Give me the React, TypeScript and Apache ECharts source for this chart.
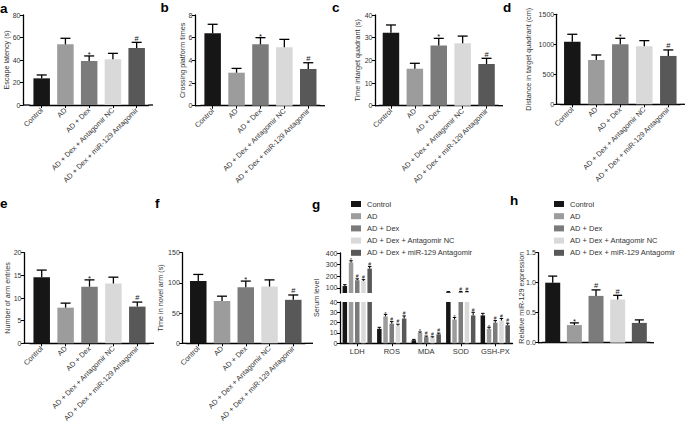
import { useEffect, useRef } from 'react';
import * as echarts from 'echarts';

const FONT = '"Liberation Sans", Arial, Helvetica, sans-serif';

const groups = ['Control', 'AD', 'AD + Dex', 'AD + Dex + Antagomir NC', 'AD + Dex + miR-129 Antagomir'];
const groupColors = ['#161616', '#9c9c9c', '#7b7b7b', '#d9d9d9', '#585858'];

// a
const escapeLatency = [23.7, 53.9, 39.1, 40.6, 50.7];
const escapeLatencyErr = [3.0, 5.4, 4.5, 5.3, 5.0];
// b
const crossingTimes = [6.38, 2.91, 5.41, 5.15, 3.24];
const crossingTimesErr = [0.8, 0.38, 0.59, 0.7, 0.55];
// c
const timeTarget = [32.2, 16.3, 26.5, 27.5, 18.4];
const timeTargetErr = [3.4, 2.4, 3.2, 3.2, 2.5];
// d
const distanceTarget = [1044, 739, 1000, 967, 806];
const distanceTargetErr = [123, 83, 100, 94, 100];
// e
const armEntries = [14.56, 7.87, 12.5, 13.2, 8.1];
const armEntriesErr = [1.6, 1.0, 1.5, 1.4, 1.0];
// f
const novelArmTime = [103, 70, 93, 94, 72];
const novelArmTimeErr = [11, 8, 10, 11, 8];
const behaviourMarks = ['', '', '*', '', '#'];
// g
const serumCategories = ['LDH', 'ROS', 'MDA', 'SOD', 'GSH-PX'];
const serumControl = [115, 14, 3, 62, 27];
const serumAD = [318, 26, 10, 23, 14];
const serumDex = [165, 19, 6, 62, 20];
const serumNC = [160, 17, 5.5, 62, 22];
const serumMiR = [265, 24, 8.7, 27, 17.5];
const serumControlErr = [12, 1.5, 0.8, 5, 2];
const serumADErr = [15, 2, 1, 2, 1.5];
const serumDexErr = [12, 2, 1, 5, 2];
const serumNCErr = [10, 1.5, 0.8, 5, 2];
const serumMiRErr = [18, 2.5, 1.2, 3, 2];
const serumMarks = ['', '*', '#', '#', '#'];
const serumUpperTicks = [100, 200, 300, 400];
const serumLowerTicks = [0, 10, 20, 30, 40];
// h
const mir129 = [1.0, 0.294, 0.78, 0.72, 0.33];
const mir129Err = [0.11, 0.036, 0.1, 0.07, 0.05];
const mir129Marks = ['', '*', '#', '#', ''];

const serumValues = [serumControl, serumAD, serumDex, serumNC, serumMiR];
const serumErrors = [serumControlErr, serumADErr, serumDexErr, serumNCErr, serumMiRErr];

type Panel = {
  letter: string; values: number[]; errors: number[]; marks: string[];
  axisX: number; left: number; width: number; xEnd: number; top: number; bottom: number;
  max: number; interval: number; name: string; nameGap: number; showX: boolean;
  barWidth: number; capW: number; digits: number;
};

const panels: Panel[] = [
  { letter: 'a', values: escapeLatency, errors: escapeLatencyErr, marks: behaviourMarks, axisX: 23, left: 29.8, width: 118.75, xEnd: 153, top: 15, bottom: 105, max: 80, interval: 20, name: 'Escape latency (s)', nameGap: 13, showX: true, barWidth: 16.5, capW: 10, digits: 0 },
  { letter: 'b', values: crossingTimes, errors: crossingTimesErr, marks: behaviourMarks, axisX: 195, left: 200.7, width: 119.5, xEnd: 325, top: 15, bottom: 105.7, max: 8, interval: 2, name: 'Crossing platform times', nameGap: 9, showX: true, barWidth: 16.5, capW: 10, digits: 0 },
  { letter: 'c', values: timeTarget, errors: timeTargetErr, marks: behaviourMarks, axisX: 375, left: 379, width: 119.5, xEnd: 503, top: 15, bottom: 105.7, max: 40, interval: 10, name: 'Time intarget quadrant (s)', nameGap: 14, showX: true, barWidth: 16.5, capW: 10, digits: 0 },
  { letter: 'd', values: distanceTarget, errors: distanceTargetErr, marks: behaviourMarks, axisX: 556.7, left: 560.3, width: 120, xEnd: 685, top: 14.3, bottom: 104.3, max: 1500, interval: 500, name: 'Distance in target quadrant (cm)', nameGap: 25, showX: true, barWidth: 16.5, capW: 10, digits: 0 },
  { letter: 'e', values: armEntries, errors: armEntriesErr, marks: behaviourMarks, axisX: 24, left: 29.75, width: 119.5, xEnd: 154, top: 252.7, bottom: 343.3, max: 20, interval: 5, name: 'Number of arm entries', nameGap: 13, showX: true, barWidth: 16.5, capW: 10, digits: 0 },
  { letter: 'f', values: novelArmTime, errors: novelArmTimeErr, marks: behaviourMarks, axisX: 182.3, left: 186.4, width: 118.75, xEnd: 313, top: 252.7, bottom: 343.3, max: 150, interval: 50, name: 'Time in novel arm (s)', nameGap: 18, showX: true, barWidth: 16.5, capW: 10, digits: 0 },
  { letter: 'h', values: mir129, errors: mir129Err, marks: mir129Marks, axisX: 538.3, left: 541.9, width: 108.25, xEnd: 654, top: 252.7, bottom: 342.7, max: 1.5, interval: 0.5, name: 'Relative miR-129 expression', nameGap: 13, showX: false, barWidth: 15, capW: 9, digits: 1 },
];

const G = { left: 340, width: 172.5, upTop: 253, upBottom: 293, lowTop: 302, lowBottom: 343.3, upMin: 55, upMax: 400, lowMax: 40, step: 6.21 };

const makeRender = (o: { capW: number; lw: number; markSize: number; lo: number; hi: number; offsetOf: (i: number) => number; markOf: (i: number) => string }) =>
  (params: any, api: any) => {
    const i = params.dataIndex;
    const x = api.value(0);
    const v = api.value(1);
    const e = api.value(2);
    const top = v + e;
    const children: any[] = [];
    if (top <= o.lo || v >= o.hi) return { type: 'group', children };
    const base = api.coord([x, Math.max(v, o.lo)]);
    const cx = base[0] + o.offsetOf(i);
    const capVal = Math.min(top, o.hi);
    const capY = api.coord([x, capVal])[1];
    children.push({ type: 'line', shape: { x1: cx, y1: base[1], x2: cx, y2: capY }, style: { stroke: '#000', lineWidth: o.lw } });
    if (top <= o.hi) {
      children.push({ type: 'line', shape: { x1: cx - o.capW / 2, y1: capY, x2: cx + o.capW / 2, y2: capY }, style: { stroke: '#000', lineWidth: o.lw } });
      const m = o.markOf(i);
      if (m) {
        children.push({
          type: 'text', x: cx, y: capY + (m === '*' ? o.markSize * 0.35 : -0.3),
          style: { text: m, fontSize: o.markSize, fontFamily: FONT, fill: '#111', align: 'center', verticalAlign: 'bottom' },
        });
      }
    }
    return { type: 'group', children };
  };

const axisColor = '#000';
const labelColor = '#333';

function buildOption() {
  const grid: any[] = [];
  const xAxis: any[] = [];
  const yAxis: any[] = [];
  const series: any[] = [];
  const graphic: any[] = [];

  panels.forEach((p, k) => {
    grid.push({ left: p.left, top: p.top, width: p.width, height: p.bottom - p.top, containLabel: false, outerBoundsMode: 'none' });
    xAxis.push({
      type: 'category', gridIndex: k, data: groups,
      axisLine: { show: true, lineStyle: { color: axisColor, width: 1.3 } },
      axisTick: { show: p.showX, alignWithLabel: true, length: 3, lineStyle: { color: axisColor, width: 1 } },
      axisLabel: { show: p.showX, rotate: 45, fontSize: 7.3, margin: 4, interval: 0, color: labelColor, fontFamily: FONT },
    });
    yAxis.push({
      type: 'value', gridIndex: k, min: 0, max: p.max, interval: p.interval, offset: p.left - p.axisX,
      name: p.name, nameLocation: 'middle', nameGap: p.nameGap, nameMoveOverlap: false,
      nameTextStyle: { fontSize: 7.2, color: labelColor, fontFamily: FONT },
      axisLine: { show: true, lineStyle: { color: axisColor, width: 1.3 } },
      axisTick: { show: true, length: 3, lineStyle: { color: axisColor, width: 1 } },
      axisLabel: { fontSize: 7, margin: 2.5, color: labelColor, fontFamily: FONT, formatter: (v: number) => v.toFixed(p.digits) },
      splitLine: { show: false },
    });
    series.push({
      type: 'bar', xAxisIndex: k, yAxisIndex: k, barWidth: p.barWidth, silent: true,
      data: p.values.map((v, j) => ({ value: v, itemStyle: { color: groupColors[j] } })),
    });
    series.push({
      type: 'custom', xAxisIndex: k, yAxisIndex: k, silent: true, z: 5,
      data: p.values.map((v, j) => [j, v, p.errors[j]]),
      renderItem: makeRender({ capW: p.capW, lw: 1.3, markSize: 7.5, lo: 0, hi: p.max, offsetOf: () => 0, markOf: (i) => p.marks[i] }),
    });
    graphic.push({ type: 'line', silent: true, shape: { x1: p.axisX, y1: p.bottom, x2: p.left, y2: p.bottom }, style: { stroke: axisColor, lineWidth: 1.3 } });
    graphic.push({ type: 'line', silent: true, shape: { x1: p.left + p.width, y1: p.bottom, x2: p.xEnd, y2: p.bottom }, style: { stroke: axisColor, lineWidth: 1.3 } });
  });

  // g: broken axis (upper and lower segments)
  const gUp = grid.length;
  grid.push({ left: G.left, top: G.upTop, width: G.width, height: G.upBottom - G.upTop, containLabel: false, outerBoundsMode: 'none' });
  const gLow = grid.length;
  grid.push({ left: G.left, top: G.lowTop, width: G.width, height: G.lowBottom - G.lowTop, containLabel: false, outerBoundsMode: 'none' });
  xAxis.push({ type: 'category', gridIndex: gUp, data: serumCategories, show: false });
  xAxis.push({
    type: 'category', gridIndex: gLow, data: serumCategories,
    axisLine: { show: true, lineStyle: { color: axisColor, width: 1.3 } },
    axisTick: { show: true, alignWithLabel: true, length: 3, lineStyle: { color: axisColor } },
    axisLabel: { fontSize: 7.5, margin: 4, interval: 0, color: labelColor, fontFamily: FONT },
  });
  yAxis.push({
    type: 'value', gridIndex: gUp, min: G.upMin, max: G.upMax,
    axisLine: { show: true, lineStyle: { color: axisColor, width: 1.3 } },
    axisTick: { show: true, length: 3, customValues: serumUpperTicks, lineStyle: { color: axisColor } },
    axisLabel: { fontSize: 7, margin: 2.5, color: labelColor, fontFamily: FONT, customValues: serumUpperTicks },
    splitLine: { show: false },
  });
  yAxis.push({
    type: 'value', gridIndex: gLow, min: 0, max: G.lowMax, interval: 10,
    axisLine: { show: true, lineStyle: { color: axisColor, width: 1.3 } },
    axisTick: { show: true, length: 3, customValues: serumLowerTicks, lineStyle: { color: axisColor } },
    axisLabel: { fontSize: 7, margin: 2.5, color: labelColor, fontFamily: FONT, customValues: serumLowerTicks },
    splitLine: { show: false },
  });
  groups.forEach((name, gi) => {
    series.push({
      type: 'bar', name, xAxisIndex: gUp, yAxisIndex: gUp, barWidth: 4.5, barGap: '38%', clip: true, silent: true,
      itemStyle: { color: groupColors[gi] },
      data: serumValues[gi].map((v) => (v > G.lowMax ? v : '-')),
    });
    series.push({
      type: 'bar', name, xAxisIndex: gLow, yAxisIndex: gLow, barWidth: 4.5, barGap: '38%', clip: true, silent: true,
      itemStyle: { color: groupColors[gi] },
      data: serumValues[gi],
    });
  });
  const gData: number[][] = [];
  serumValues.forEach((arr, gi) => arr.forEach((v, c) => gData.push([c, v, serumErrors[gi][c]])));
  const nCat = serumCategories.length;
  const offsetOf = (i: number) => (Math.floor(i / nCat) - 2) * G.step;
  const markOf = (i: number) => serumMarks[Math.floor(i / nCat)];
  series.push({
    type: 'custom', xAxisIndex: gUp, yAxisIndex: gUp, silent: true, z: 5, data: gData,
    renderItem: makeRender({ capW: 3.5, lw: 1, markSize: 5, lo: G.upMin, hi: G.upMax, offsetOf, markOf }),
  });
  series.push({
    type: 'custom', xAxisIndex: gLow, yAxisIndex: gLow, silent: true, z: 5, data: gData,
    renderItem: makeRender({ capW: 3.5, lw: 1, markSize: 5, lo: 0, hi: G.lowMax, offsetOf, markOf }),
  });
  graphic.push({ type: 'text', silent: true, x: 316, y: 298, rotation: Math.PI / 2, style: { text: 'Serum level', fontSize: 7.2, fontFamily: FONT, fill: labelColor, align: 'center', verticalAlign: 'middle' } });

  // panel letters
  const letters: [string, number, number][] = [
    ['a', 0, 13], ['b', 160.5, 12.7], ['c', 332, 12], ['d', 503, 12],
    ['e', 0, 208], ['f', 155, 208], ['g', 312, 209], ['h', 510, 205],
  ];
  letters.forEach(([t, x, y]) => {
    graphic.push({ type: 'text', silent: true, x, y: y + 2, style: { text: t, font: `bold 13.5px ${FONT}`, fill: '#000', align: 'left', verticalAlign: 'bottom' } });
  });

  const legendBase = {
    orient: 'vertical', data: groups, icon: 'rect', itemWidth: 10, itemHeight: 6, itemGap: 4.2,
    selectedMode: false,
    textStyle: { fontSize: 7.5, color: labelColor, fontFamily: FONT, lineHeight: 8, padding: [0, 0, 0, 1] },
    top: 195,
  };

  return {
    animation: false,
    backgroundColor: '#fff',
    textStyle: { fontFamily: FONT },
    grid, xAxis, yAxis, series, graphic,
    legend: [
      { ...legendBase, left: 346 },
      { ...legendBase, left: 549 },
    ],
  };
}

export default function App() {
  const ref = useRef<HTMLDivElement>(null);
  useEffect(() => {
    if (!ref.current) return;
    const chart = echarts.init(ref.current, undefined, { renderer: 'svg' });
    chart.setOption(buildOption() as any);
    return () => chart.dispose();
  }, []);
  return <div ref={ref} style={{ position: 'absolute', left: 0, top: 0, width: 685, height: 424, background: '#fff' }} />;
}
